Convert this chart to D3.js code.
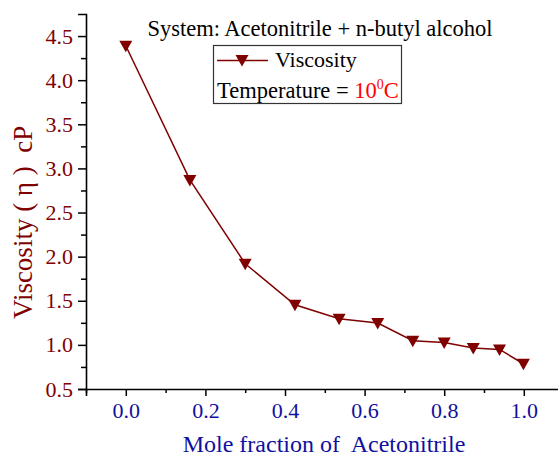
<!DOCTYPE html>
<html lang="en">
<head>
<meta charset="UTF-8">
<title>Viscosity vs mole fraction</title>
<script src="https://d3js.org/d3.v7.min.js"></script>
<style>
  body { margin: 0; background: #fff; }
  svg { display: block; font-family: "Liberation Serif", "Times New Roman", serif; }
</style>
</head>
<body>
<div id="chart"></div>

<script>
// Data
const moleFraction = [0.0, 0.161, 0.30, 0.425, 0.536, 0.633, 0.721, 0.80, 0.873, 0.939, 0.999];
const viscosity    = [4.39, 2.87, 1.92, 1.455, 1.296, 1.247, 1.047, 1.028, 0.964, 0.948, 0.786];
const xTicks = [0.0, 0.2, 0.4, 0.6, 0.8, 1.0];
const yTicks = [0.5, 1.0, 1.5, 2.0, 2.5, 3.0, 3.5, 4.0, 4.5];

const W = 558, H = 457;
const margin = { top: 14, right: 0, bottom: 68, left: 86 };

const red = "#800000", blue = "#1010a0";

const svg = d3.select("#chart").append("svg")
  .attr("width", W)
  .attr("height", H);

// scales
const x = d3.scaleLinear().domain([-0.1, 1.1]).range([margin.left, margin.left + 477.6]);
const y = d3.scaleLinear().domain([0.5, 4.75]).range([H - margin.bottom, margin.top]);

// x axis (major + minor)
const xAxis = svg.append("g")
  .attr("transform", `translate(0,${y(0.5)})`)
  .call(d3.axisBottom(x).tickValues(xTicks).tickSize(7).tickFormat(d3.format(".1f")))
  .attr("font-family", null).attr("font-size", null)
  .call(g => g.selectAll("text").attr("fill", blue).attr("font-size", 22).attr("y", 29).attr("dy", 0));
xAxis.append("g")
  .call(d3.axisBottom(x).tickValues(d3.range(0, 7).map(i => -0.1 + i * 0.2)).tickSize(4).tickFormat(""))
  .call(g => g.select(".domain").remove());
xAxis.selectAll(".domain").attr("stroke-width", 1.6);
xAxis.selectAll("line").attr("stroke-width", 1.5);

// y axis
const yAxis = svg.append("g")
  .attr("transform", `translate(${margin.left},0)`)
  .call(d3.axisLeft(y).tickValues(yTicks).tickSize(8).tickFormat(d3.format(".1f")))
  .attr("font-family", null).attr("font-size", null)
  .call(g => g.selectAll("text").attr("fill", red).attr("font-size", 22).attr("x", -13));
yAxis.append("g")
  .call(d3.axisLeft(y).tickValues(d3.range(0, 8).map(i => 0.75 + i * 0.5)).tickSize(5).tickFormat(""))
  .call(g => g.select(".domain").remove());
yAxis.selectAll(".domain").attr("stroke-width", 1.6);
yAxis.selectAll("line").attr("stroke-width", 1.5);

// line and markers
const pts = moleFraction.map((d, i) => [d, viscosity[i]]);
svg.append("path")
  .datum(pts)
  .attr("fill", "none")
  .attr("stroke", red)
  .attr("stroke-width", 1.5)
  .attr("d", d3.line().x(d => x(d[0])).y(d => y(d[1])));

const tri = "M-6.5,-5L6.5,-5L0,6.5Z";
svg.selectAll(".pt")
  .data(pts)
  .enter().append("path")
  .attr("class", "pt")
  .attr("d", tri)
  .attr("fill", red)
  .attr("transform", d => `translate(${x(d[0])},${y(d[1])})`);

// title
svg.append("text")
  .attr("x", 320).attr("y", 36)
  .attr("text-anchor", "middle")
  .attr("font-size", 22.5)
  .text("System: Acetonitrile + n-butyl alcohol");

// legend
const lg = svg.append("g");
lg.append("rect")
  .attr("x", 213.5).attr("y", 45.5).attr("width", 188).attr("height", 58)
  .attr("fill", "#fff").attr("stroke", "#333").attr("stroke-width", 1.2);
lg.append("line").attr("x1", 217).attr("x2", 268).attr("y1", 60.5).attr("y2", 60.5)
  .attr("stroke", red).attr("stroke-width", 1.5);
lg.append("path").attr("d", tri).attr("fill", red).attr("transform", "translate(242,60)");
lg.append("text").attr("x", 275).attr("y", 67).attr("font-size", 22).text("Viscosity");
const tt = lg.append("text").attr("x", 217).attr("y", 98).attr("font-size", 22.5);
tt.append("tspan").text("Temperature = ");
tt.append("tspan").attr("fill", "red").text("10");
tt.append("tspan").attr("fill", "red").attr("font-size", 14).attr("dy", -9).text("0");
tt.append("tspan").attr("fill", "red").attr("dy", 9).text("C");

// axis titles
svg.append("text")
  .attr("x", 324).attr("y", 452)
  .attr("text-anchor", "middle")
  .attr("fill", blue)
  .attr("font-size", 24)
  .style("white-space", "pre")
  .text("Mole fraction of  Acetonitrile");

svg.append("text")
  .attr("transform", "rotate(-90)")
  .attr("x", -319).attr("y", 31.5)
  .attr("fill", red)
  .attr("font-size", 27)
  .style("white-space", "pre")
  .text("Viscosity ( η )  cP");
</script>
</body>
</html>
